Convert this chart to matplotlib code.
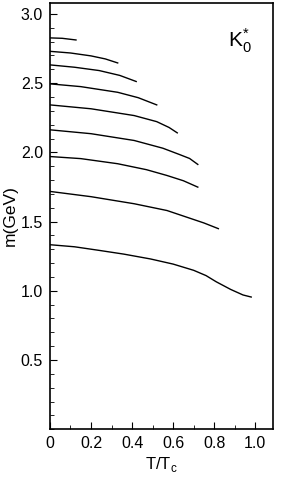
import matplotlib.pyplot as plt
from matplotlib.ticker import MultipleLocator

plt.rcParams["font.family"] = ["Liberation Sans", "DejaVu Sans"]

# T/Tc and mass (GeV) for each trajectory
x1 = [0.0, 0.12, 0.24, 0.36, 0.49, 0.60, 0.70, 0.76, 0.81, 0.88, 0.94, 0.98]
m1 = [1.333, 1.318, 1.292, 1.265, 1.230, 1.193, 1.148, 1.110, 1.065, 1.010, 0.970, 0.955]
x2 = [0.0, 0.20, 0.41, 0.57, 0.67, 0.75, 0.82]
m2 = [1.718, 1.680, 1.629, 1.580, 1.530, 1.490, 1.449]
x3 = [0.0, 0.15, 0.33, 0.47, 0.57, 0.65, 0.72]
m3 = [1.970, 1.955, 1.918, 1.875, 1.833, 1.795, 1.749]
x4 = [0.0, 0.20, 0.41, 0.55, 0.63, 0.68, 0.72]
m4 = [2.163, 2.135, 2.086, 2.030, 1.985, 1.956, 1.913]
x5 = [0.0, 0.20, 0.41, 0.52, 0.58, 0.62]
m5 = [2.343, 2.315, 2.266, 2.222, 2.180, 2.141]
x6 = [0.0, 0.15, 0.33, 0.43, 0.52]
m6 = [2.495, 2.475, 2.434, 2.395, 2.343]
x7 = [0.0, 0.12, 0.24, 0.34, 0.42]
m7 = [2.632, 2.615, 2.591, 2.556, 2.512]
x8 = [0.0, 0.10, 0.20, 0.27, 0.33]
m8 = [2.730, 2.718, 2.697, 2.675, 2.646]
x9 = [0.0, 0.06, 0.127]
m9 = [2.827, 2.824, 2.812]

curves = [(x1, m1), (x2, m2), (x3, m3), (x4, m4), (x5, m5),
          (x6, m6), (x7, m7), (x8, m8), (x9, m9)]

fig = plt.figure(figsize=(2.82, 4.78), dpi=100)
ax = fig.add_axes([0.177, 0.102, 0.791, 0.892])

for xs, ms in curves:
    ax.plot(xs, ms, color="black", lw=1.0)

ax.set_xlim(0, 1.086)
ax.set_ylim(0, 3.08)
ax.xaxis.set_minor_locator(MultipleLocator(0.1))
ax.yaxis.set_minor_locator(MultipleLocator(0.1))
ax.set_yticks([0.5, 1.0, 1.5, 2.0, 2.5, 3.0])
ax.set_yticklabels(["0.5", "1.0", "1.5", "2.0", "2.5", "3.0"])
ax.set_xticks([0, 0.2, 0.4, 0.6, 0.8, 1.0])
ax.set_xticklabels(["0", "0.2", "0.4", "0.6", "0.8", "1.0"])

ax.tick_params(which="both", direction="in", top=False, right=False, labelsize=11.5)
ax.tick_params(which="major", length=5, pad=5)
ax.tick_params(which="minor", length=3)
for s in ax.spines.values():
    s.set_linewidth(1.2)

ax.set_xlabel("T/T$_\\mathregular{c}$", fontsize=12, labelpad=3)
ax.set_ylabel("m(GeV)", fontsize=12.5, labelpad=2)
ax.text(0.80, 0.912, "K$_\\mathregular{0}^\\mathregular{*}$", transform=ax.transAxes,
        ha="left", va="center", fontsize=15)

fig.savefig("out.png", dpi=100)
